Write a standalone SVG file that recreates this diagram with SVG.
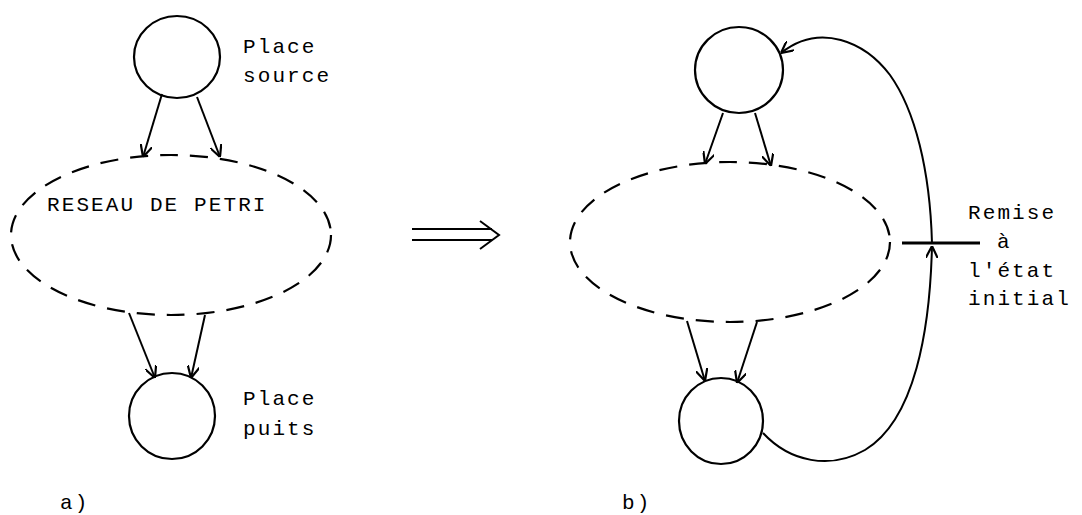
<svg xmlns="http://www.w3.org/2000/svg" width="1082" height="515" viewBox="0 0 1082 515">
<style>
.pl{fill:none;stroke:#000;stroke-width:2.2}
.net{fill:none;stroke:#000;stroke-width:2.2;stroke-dasharray:18 12}
.arc{fill:none;stroke:#000;stroke-width:2}
.t{font-family:"Courier New","Liberation Mono",monospace;font-size:21px;letter-spacing:2.1px;fill:#000}
</style>
<defs>
<marker id="ah" viewBox="0 0 12 12" refX="12" refY="6" markerWidth="12" markerHeight="12" markerUnits="userSpaceOnUse" orient="auto">
<path d="M0,0 L12,6 L0,12" fill="none" stroke="#000" stroke-width="2.2"/>
</marker>
</defs>
<g id="a-source"><ellipse class="pl" cx="177" cy="57" rx="43" ry="41"/></g>
<g id="a-net"><ellipse class="net" cx="171" cy="235" rx="160" ry="80"/>
<text class="t" x="47" y="211">RESEAU DE PETRI</text></g>
<g id="a-sink"><ellipse class="pl" cx="172" cy="416" rx="43" ry="43"/></g>
<g id="a-labels">
<text class="t" x="243" y="53">Place</text>
<text class="t" x="243" y="82">source</text>
<text class="t" x="243" y="405">Place</text>
<text class="t" x="243" y="435">puits</text>
<text class="t" x="60" y="509">a)</text>
</g>
<g id="b-top"><ellipse class="pl" cx="739" cy="70" rx="44" ry="43"/></g>
<g id="b-net"><ellipse class="net" cx="730" cy="242" rx="160" ry="80"/></g>
<g id="b-bottom"><ellipse class="pl" cx="721" cy="421" rx="42" ry="43"/></g>
<g id="b-transition"><line x1="902" y1="243" x2="980" y2="243" stroke="#000" stroke-width="3.2"/></g>
<g id="b-labels">
<text class="t" x="968" y="219">Remise</text>
<text class="t" x="997" y="248">à</text>
<text class="t" x="968" y="277">l'état</text>
<text class="t" x="968" y="305">initial</text>
<text class="t" x="622" y="509">b)</text>
</g>
<g id="connectors">
<line class="arc" x1="162" y1="94" x2="143" y2="157" marker-end="url(#ah)"/>
<line class="arc" x1="197" y1="97" x2="220" y2="157" marker-end="url(#ah)"/>
<line class="arc" x1="129" y1="313" x2="155" y2="378" marker-end="url(#ah)"/>
<line class="arc" x1="205" y1="315" x2="191" y2="378" marker-end="url(#ah)"/>
<line class="arc" x1="723" y1="113" x2="705" y2="164" marker-end="url(#ah)"/>
<line class="arc" x1="755" y1="113" x2="771" y2="166" marker-end="url(#ah)"/>
<line class="arc" x1="687" y1="321" x2="705" y2="381" marker-end="url(#ah)"/>
<line class="arc" x1="757" y1="322" x2="737" y2="383" marker-end="url(#ah)"/>
<path class="arc" d="M763,433 C790,462 830,470 865,450 C915,420 930,330 932,246" marker-end="url(#ah)"/>
<path class="arc" d="M932,243 C930,170 915,110 890,75 C865,42 820,22 781,53" marker-end="url(#ah)"/>
<g fill="none" stroke="#000" stroke-width="2">
<line x1="412" y1="229" x2="492" y2="229"/>
<line x1="412" y1="240" x2="492" y2="240"/>
<path d="M480,221 L499,235 L480,249"/>
</g>
</g>
</svg>
